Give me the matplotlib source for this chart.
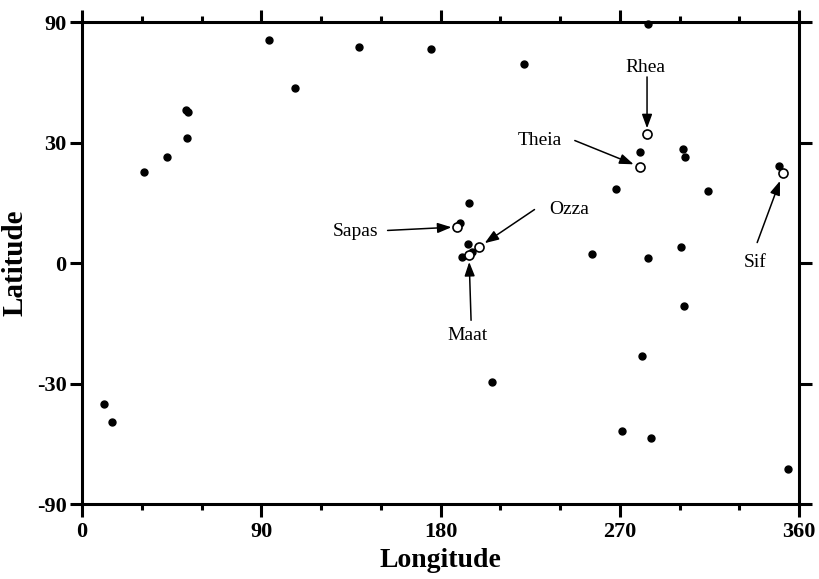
import numpy as np
import matplotlib
matplotlib.use('Agg')
import matplotlib.pyplot as plt
from matplotlib.ticker import FixedLocator, MultipleLocator

plt.rcParams['font.family'] = ['Liberation Serif', 'DejaVu Serif']

# plain features (filled dots), longitude / latitude in degrees
dot_lon = [11.0, 15.1, 31.1, 42.7, 52.7, 52.2, 53.2, 93.9, 106.9, 139.1,
           175.2, 221.9, 284.2, 280.2, 301.8, 302.8, 268.1, 314.3, 349.9, 189.8,
           194.3, 193.8, 190.8, 195.8, 256.1, 284.2, 300.8, 302.3, 281.2, 271.1,
           285.7, 354.5, 205.9]
dot_lat = [-35.8, -41.3, 22.2, 26.1, 31.2, 39.4, 38.8, 67.7, 46.6, 63.7,
           62.6, 55.7, 83.5, 27.4, 28.2, 26.1, 17.9, 17.4, 23.7, 9.6,
           14.4, 4.5, 1.4, 2.6, 2.1, 1.2, 3.8, -10.3, -22.7, -44.2,
           -46.6, -58.7, -29.6]

# named features (open circles)
names = ['Rhea', 'Theia', 'Sapas', 'Ozza', 'Maat', 'Sif']
name_lon = [283.7, 280.2, 188.3, 199.3, 194.3, 351.9]
name_lat = [32.4, 23.5, 8.6, 3.8, 1.9, 21.9]

# label text offset, arrow tail offset (points from the feature), arrow shrink
label_layout = {
    'Rhea': ((-1, 48), (0, 41), 4),
    'Theia': ((-72, 19), (-47, 19), 5),
    'Sapas': ((-73, -3), (-50, -2.5), 4),
    'Ozza': ((65, 27), (40, 27), 5),
    'Maat': ((-1, -58), (1.5, -47), 5),
    'Sif': ((-20, -64), (-18.5, -50), 6),
}


def sin_lat(y):
    return np.sin(np.radians(y))


def arcsin_lat(s):
    return np.degrees(np.arcsin(np.clip(s, -1, 1)))


fig = plt.figure(figsize=(8.2, 5.79), dpi=100)
ax = fig.add_axes([0.1, 0.1295, 0.8744, 0.8325])

ax.plot(dot_lon, dot_lat, 'o', color='black', markersize=5, clip_on=False, zorder=3)
ax.plot(name_lon, name_lat, 'o', markerfacecolor='white', markeredgecolor='black',
        markeredgewidth=1.2, markersize=6.5, clip_on=False, zorder=4)

for name, lon, lat in zip(names, name_lon, name_lat):
    text_off, tail_off, shrink = label_layout[name]
    ax.annotate('', xy=(lon, lat), xytext=tail_off, textcoords='offset points',
                arrowprops=dict(arrowstyle='-|>,head_length=0.6,head_width=0.22',
                                color='black', lw=1.1, shrinkA=0, shrinkB=shrink,
                                mutation_scale=14))
    ax.annotate(name, xy=(lon, lat), xytext=text_off, textcoords='offset points',
                ha='center', va='center', fontsize=14)

ax.set_yscale('function', functions=(sin_lat, arcsin_lat))
ax.set_xlim(0, 360)
ax.set_ylim(-90, 90)

ax.xaxis.set_major_locator(FixedLocator([0, 90, 180, 270, 360]))
ax.xaxis.set_minor_locator(MultipleLocator(30))
ax.set_xticklabels(['0', '90', '180', '270', '360'], fontweight='bold')
ax.yaxis.set_major_locator(FixedLocator([-90, -30, 0, 30, 90]))
ax.yaxis.set_minor_locator(FixedLocator([]))
ax.set_yticklabels(['-90', '-30', '0', '30', '90'], fontweight='bold')

ax.tick_params(which='both', direction='out', top=True, right=True, width=2.2)
ax.tick_params(which='major', length=9, labelsize=16)
ax.tick_params(which='minor', length=4.5)
ax.tick_params(axis='y', pad=2)
ax.tick_params(axis='x', pad=4)

for spine in ax.spines.values():
    spine.set_linewidth(2.2)

ax.set_xlabel('Longitude', fontsize=20, fontweight='bold', labelpad=4)
ax.set_ylabel('Latitude', fontsize=21, fontweight='bold', labelpad=6)

fig.savefig('out.png', dpi=100)
